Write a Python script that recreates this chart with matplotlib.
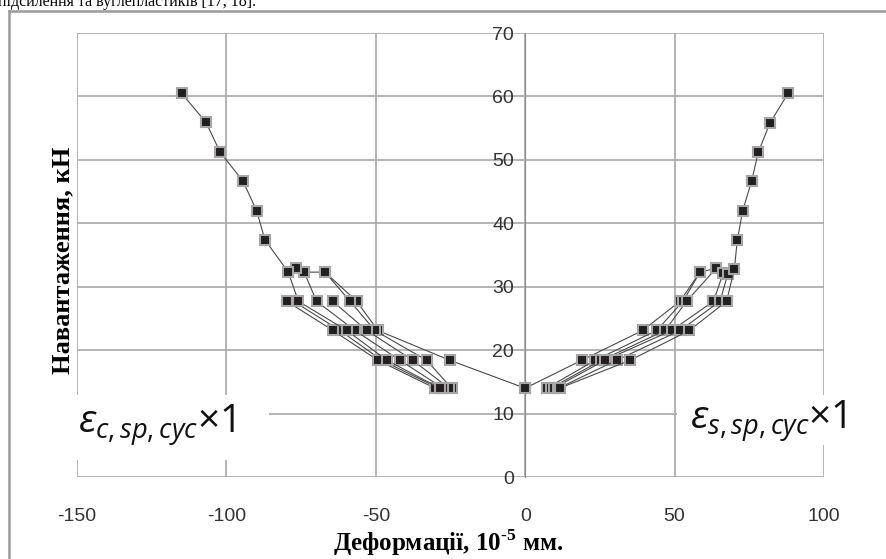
import matplotlib
matplotlib.use("Agg")
import matplotlib.pyplot as plt
from matplotlib.lines import Line2D
from matplotlib.patches import Rectangle

plt.rcParams['mathtext.fontset'] = 'custom'
plt.rcParams['mathtext.it'] = 'Open Sans:italic'
plt.rcParams['mathtext.rm'] = 'Open Sans'
plt.rcParams['mathtext.bf'] = 'Liberation Serif:bold'
plt.rcParams['axes.unicode_minus'] = False

# concrete deformations (left branch), one list per load cycle
c_def = [
    [0.0, -25.2, -49.3, -56.4, -67.0, -74.0],
    [-24.6, -33.0, -50.3, -58.6, -67.0],
    [-25.5, -37.6, -53.0, -64.4],
    [-27.5, -41.9, -57.0, -69.8, -74.0, -76.8],
    [-29.0, -48.0, -62.0, -77.5],
    [-30.2, -49.3, -64.3, -79.8],
    [-28.5, -46.3, -59.7, -75.9, -79.3, -87.1, -89.9, -94.5, -102.1, -106.8, -115.0],
]
c_load = [
    [14.0, 18.4, 23.1, 27.7, 32.3, 32.3],
    [14.0, 18.4, 23.1, 27.7, 32.3],
    [14.0, 18.4, 23.1, 27.7],
    [14.0, 18.4, 23.1, 27.7, 32.3, 33.0],
    [14.0, 18.4, 23.1, 27.7],
    [14.0, 18.4, 23.1, 27.7],
    [14.0, 18.4, 23.1, 27.7, 32.3, 37.4, 42.0, 46.7, 51.2, 55.9, 60.5],
]

# reinforcement deformations (right branch)
s_def = [
    [0.0, 18.9, 39.3, 51.8, 58.5, 63.9],
    [7.2, 23.4, 44.0, 52.8, 58.5],
    [8.5, 25.5, 46.8, 54.0, 63.9],
    [9.5, 26.7, 49.0, 63.0, 66.3],
    [11.1, 30.6, 51.8, 65.2, 67.8],
    [11.5, 35.1, 54.9, 67.4, 70.0, 71.0, 72.8, 75.8, 78.0, 81.9, 88.0],
]
s_load = [
    [14.0, 18.4, 23.1, 27.7, 32.3, 32.9],
    [14.0, 18.4, 23.1, 27.7, 32.3],
    [14.0, 18.4, 23.1, 27.7, 32.9],
    [14.0, 18.4, 23.1, 27.7, 32.2],
    [14.0, 18.4, 23.1, 27.7, 32.0],
    [14.0, 18.4, 23.1, 27.7, 32.8, 37.4, 42.0, 46.7, 51.2, 55.8, 60.5],
]

x_ticks = [-150, -100, -50, 0, 50, 100]
y_ticks = [0, 10, 20, 30, 40, 50, 60, 70]

W, H = 887, 559
fig = plt.figure(figsize=(W / 100, H / 100), dpi=100)
ax = fig.add_axes([77 / W, 1 - 477 / H, 747 / W, 444 / H])

for xs, ys in list(zip(c_def, c_load)) + list(zip(s_def, s_load)):
    ax.plot(xs, ys, color='#4a4a4a', lw=0.8, marker='s', ms=7,
            mfc='#231f20', mec='#a6a6a6', mew=1.5, zorder=3)

ax.set_xlim(-150, 100)
ax.set_ylim(0, 70)
ax.set_xticks(x_ticks)
ax.set_yticks(y_ticks)
ax.grid(True, color='#a8a8a8', lw=1.2, zorder=0)
ax.set_axisbelow(True)

for s in ['top', 'right', 'bottom']:
    ax.spines[s].set_visible(False)
ax.spines['left'].set_position(('data', 0))
ax.spines['left'].set_color('#8a8a8a')
ax.spines['left'].set_linewidth(0.8)
ax.tick_params(axis='both', length=0, labelsize=14, labelcolor='#333333')
ax.tick_params(axis='y', pad=8)
ax.tick_params(axis='x', pad=22)
for lab in ax.get_xticklabels() + ax.get_yticklabels():
    lab.set_family('Liberation Sans')

# white boxes hiding grid behind the labels
fig.add_artist(Rectangle((60 / W, 1 - 460 / H), 209 / W, 65 / H,
                         transform=fig.transFigure, fc='white', ec='none', zorder=2))
fig.add_artist(Rectangle((677 / W, 1 - 445 / H), 180 / W, 50 / H,
                         transform=fig.transFigure, fc='white', ec='none', zorder=2))

fig.text(78 / W, 1 - 433 / H, r'$\varepsilon_{c,sp,cyc}$×1', fontsize=28,
         family='Open Sans', color='#111111', zorder=4)
fig.text(690 / W, 1 - 429 / H, r'$\varepsilon_{s,sp,cyc}$×1', fontsize=28,
         family='Open Sans', color='#111111', zorder=4)

fig.text(448 / W, 1 - 551 / H, r'Деформації, 10$^{\mathbf{‐5}}$ мм.', fontsize=18,
         family='Liberation Serif', weight='bold', ha='center', va='baseline')
fig.text(63 / W, 1 - 260 / H, 'Навантаження, кН', fontsize=19,
         family='Liberation Serif', weight='bold', rotation=90,
         ha='center', va='center')

# partially cut text line above the frame
fig.text(-2 / W, 1 - 6 / H, 'підсилення та вуглепластиків [17, 18].', fontsize=11.5,
         family='Liberation Serif', va='baseline')

# frame (left and top edges)
fig.add_artist(Line2D([9 / W, 9 / W], [0, 1 - 11 / H], transform=fig.transFigure,
                      color='#9a9a9a', lw=1.8))
fig.add_artist(Line2D([9 / W, 1], [1 - 11 / H, 1 - 11 / H], transform=fig.transFigure,
                      color='#9a9a9a', lw=1.8))

fig.savefig('out.png', dpi=100)
